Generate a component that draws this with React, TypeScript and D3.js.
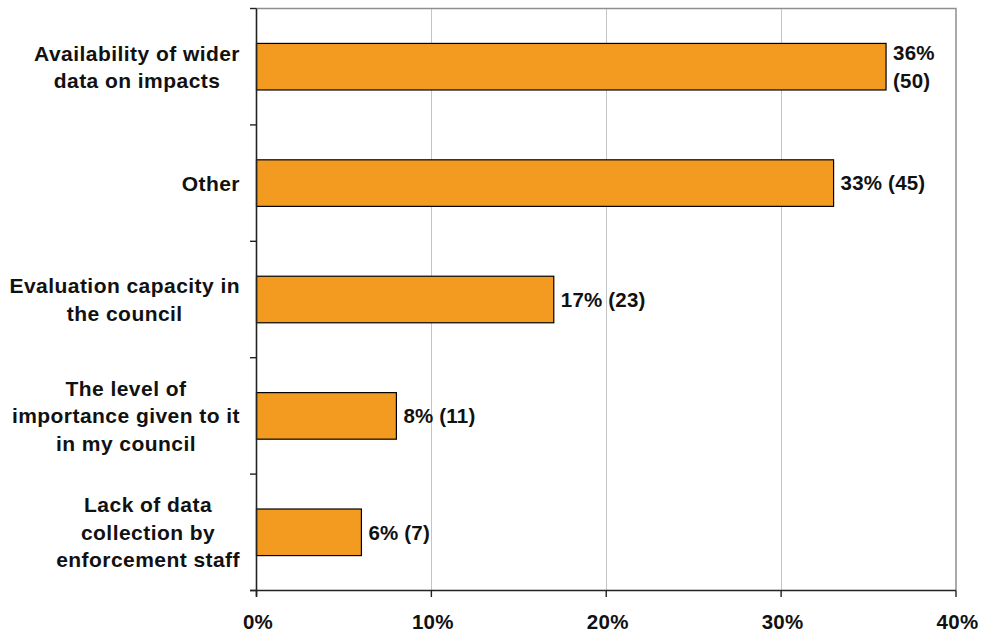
import React, { useEffect, useRef } from "react";
import * as d3 from "d3";

// Survey responses: share of respondents and count per option
const categories: string[][] = [
  ["Availability of wider", "data on impacts"],
  ["Other"],
  ["Evaluation capacity in", "the council"],
  ["The level of", "importance given to it", "in my council"],
  ["Lack of data", "collection by", "enforcement staff"],
];
const shares: number[] = [0.36, 0.33, 0.17, 0.08, 0.06];
const counts: number[] = [50, 45, 23, 11, 7];
const xTicks: number[] = [0, 0.1, 0.2, 0.3, 0.4];

const W = 981;
const H = 634;
const FONT = "'Liberation Sans', Arial, sans-serif";

export default function App() {
  const ref = useRef<SVGSVGElement | null>(null);

  useEffect(() => {
    const svg = d3.select(ref.current);
    svg.selectAll("*").remove();

    const left = 256.5;
    const right = 956;
    const top = 8.5;
    const bottom = 590.5;

    const keys = categories.map((c) => c.join(" "));
    const x = d3.scaleLinear().domain([0, 0.4]).range([left, right]);
    const y = d3
      .scaleBand<string>()
      .domain(keys)
      .range([top, bottom])
      .paddingInner(0.6)
      .paddingOuter(0.3);

    // gridlines
    svg
      .append("g")
      .selectAll("line")
      .data(xTicks.filter((t) => t > 0 && t < 0.4))
      .join("line")
      .attr("x1", (d) => Math.round(x(d)) + 0.5)
      .attr("x2", (d) => Math.round(x(d)) + 0.5)
      .attr("y1", top)
      .attr("y2", bottom)
      .attr("stroke", "#c4c4c4")
      .attr("stroke-width", 1);

    // plot area border (top and right)
    svg
      .append("path")
      .attr("d", `M${left},${top}H${right}V${bottom}`)
      .attr("fill", "none")
      .attr("stroke", "#8e8e8e")
      .attr("stroke-width", 1.5);

    // bars
    svg
      .append("g")
      .selectAll("rect")
      .data(shares)
      .join("rect")
      .attr("x", left)
      .attr("y", (_, i) => y(keys[i])!)
      .attr("width", (d) => x(d) - left)
      .attr("height", y.bandwidth())
      .attr("fill", "#f39a21")
      .attr("stroke", "#000")
      .attr("stroke-width", 1.2);

    // axes
    const axisColor = "#222";
    svg
      .append("line")
      .attr("x1", left)
      .attr("x2", left)
      .attr("y1", top)
      .attr("y2", bottom + 6)
      .attr("stroke", axisColor)
      .attr("stroke-width", 1.6);
    svg
      .append("line")
      .attr("x1", left - 6.5)
      .attr("x2", right)
      .attr("y1", bottom)
      .attr("y2", bottom)
      .attr("stroke", axisColor)
      .attr("stroke-width", 1.6);

    const step = y.step();
    const boundaries = d3.range(keys.length + 1).map((i) => top + i * step);
    svg
      .append("g")
      .selectAll("line")
      .data(boundaries)
      .join("line")
      .attr("x1", left - 6.5)
      .attr("x2", left)
      .attr("y1", (d) => d)
      .attr("y2", (d) => d)
      .attr("stroke", axisColor)
      .attr("stroke-width", 1.4);

    svg
      .append("g")
      .selectAll("line")
      .data(xTicks)
      .join("line")
      .attr("x1", (d) => x(d))
      .attr("x2", (d) => x(d))
      .attr("y1", bottom)
      .attr("y2", bottom + 6.5)
      .attr("stroke", axisColor)
      .attr("stroke-width", 1.4);

    const textStyle = (sel: any, size: number, spacing: number) =>
      sel
        .attr("font-family", FONT)
        .attr("font-weight", "bold")
        .attr("font-size", size)
        .attr("letter-spacing", spacing)
        .attr("fill", "#111");

    // x tick labels
    svg
      .append("g")
      .selectAll("text")
      .data(xTicks)
      .join("text")
      .attr("x", (d) => x(d) + 1.5)
      .attr("y", 629)
      .attr("text-anchor", "middle")
      .call(textStyle, 20.5, 0.3)
      .text((d) => d3.format(".0%")(d));

    // category labels: lines centred inside a right-aligned block
    const catLine = 27.5;
    const blockRight = 240;
    categories.forEach((lines, i) => {
      const cy = y(keys[i])! + y.bandwidth() / 2;
      const g = svg.append("g");
      const texts = g
        .selectAll("text")
        .data(lines)
        .join("text")
        .call(textStyle, 21, 0.45)
        .attr("text-anchor", "middle")
        .text((d) => d);
      let maxW = 0;
      texts.each(function () {
        maxW = Math.max(maxW, (this as SVGTextElement).getComputedTextLength());
      });
      const cx = blockRight - maxW / 2;
      const n = lines.length;
      texts
        .attr("x", cx)
        .attr("y", (_, j) => cy + (j - (n - 1) / 2) * catLine)
        .attr("dy", "0.36em");
    });

    // value labels
    const valLine = 28;
    shares.forEach((v, i) => {
      const cy = y(keys[i])! + y.bandwidth() / 2;
      const lx = x(v) + 7;
      const pct = d3.format(".0%")(v);
      const full = `${pct} (${counts[i]})`;
      const t = svg
        .append("text")
        .attr("x", lx)
        .call(textStyle, 20.5, 0.2)
        .text(full);
      const w = (t.node() as SVGTextElement).getComputedTextLength();
      if (lx + w > right - 4) {
        t.text(null);
        const parts = [pct, `(${counts[i]})`];
        t.selectAll("tspan")
          .data(parts)
          .join("tspan")
          .attr("x", lx)
          .attr("y", (_, j) => cy + (j - 0.5) * valLine)
          .attr("dy", "0.36em")
          .text((d) => d);
      } else {
        t.attr("y", cy).attr("dy", "0.36em");
      }
    });
  }, []);

  return (
    <svg
      ref={ref}
      width={W}
      height={H}
      style={{ position: "absolute", left: 0, top: 0, background: "#fff" }}
    />
  );
}
